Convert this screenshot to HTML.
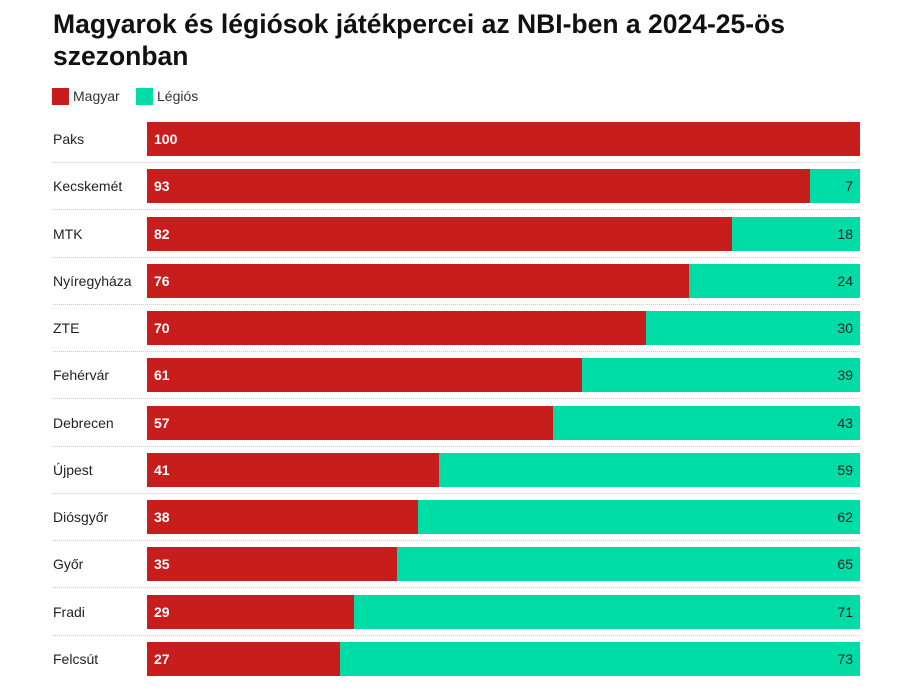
<!DOCTYPE html><html><head><style>
body{margin:0;width:917px;height:693px;background:#fff;font-family:"Liberation Sans",sans-serif;position:relative;overflow:hidden}
h1{position:absolute;left:53px;top:8px;margin:0;font-size:26.5px;line-height:32px;font-weight:bold;color:#111;width:840px;letter-spacing:0}
.lg{position:absolute;top:88px;font-size:14px;color:#333;line-height:17px}
.sw{position:absolute;top:88px;width:17px;height:17px}
.row{position:absolute;left:0;width:917px;height:47px}
.lab{position:absolute;left:53px;top:9px;font-size:14px;color:#222}
.bar{position:absolute;left:147px;top:0;height:34px;width:713px;background:#00dca6}
.m{position:absolute;left:0;top:0;height:34px;background:#c81d1d}
.mv{position:absolute;left:7px;top:9px;font-size:14px;font-weight:bold;color:#fff}
.lv{position:absolute;right:7px;top:9px;font-size:14px;color:#222}
.sep{position:absolute;left:53px;width:807px;top:40px;border-top:1px dotted #ccc}
</style></head><body>
<h1>Magyarok és légiósok játékpercei az NBI-ben a 2024-25-ös szezonban</h1>
<div class="sw" style="left:52px;background:#c81d1d"></div><div class="lg" style="left:73px">Magyar</div>
<div class="sw" style="left:136px;background:#00dca6"></div><div class="lg" style="left:157px">Légiós</div>
<div id="c"></div>
<script>
var d=[["Paks",100],["Kecskemét",93],["MTK",82],["Nyíregyháza",76],["ZTE",70],["Fehérvár",61],["Debrecen",57],["Újpest",41],["Diósgyőr",38],["Győr",35],["Fradi",29],["Felcsút",27]];
var h="";d.forEach(function(r,i){var y=122+i*47.27;h+='<div class="row" style="top:'+y+'px"><div class="lab">'+r[0]+'</div><div class="bar"><div class="m" style="width:'+(r[1]*7.13)+'px"><span class="mv">'+r[1]+'</span></div>'+(r[1]<100?'<span class="lv">'+(100-r[1])+'</span>':'')+'</div>'+(i<11?'<div class="sep"></div>':'')+'</div>';});
document.getElementById("c").innerHTML=h;
</script>
</body></html>
